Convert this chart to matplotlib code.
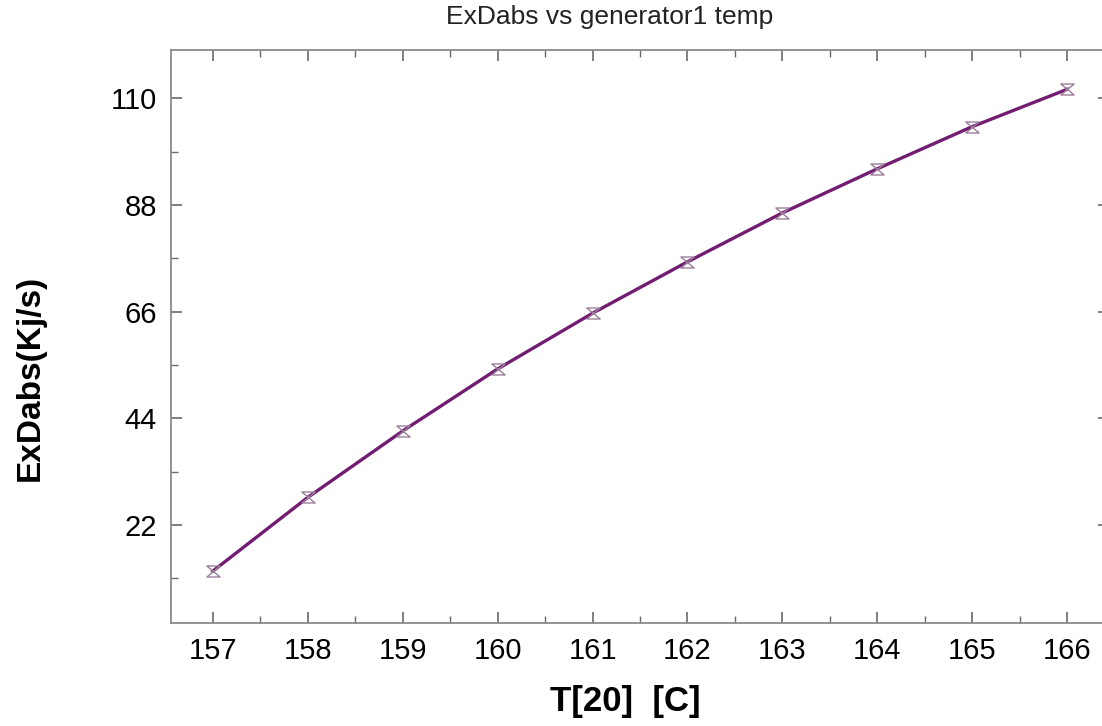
import matplotlib
matplotlib.use("Agg")
import matplotlib.pyplot as plt
from matplotlib.path import Path
from matplotlib.ticker import MultipleLocator

plt.rcParams['font.family'] = ['Liberation Sans', 'DejaVu Sans']

# generator temperature vs absorber exergy destruction
temp = [157, 158, 159, 160, 161, 162, 163, 164, 165, 166]
exd_abs = [12.5, 27.7, 41.4, 54.2, 65.7, 76.3, 86.4, 95.5, 104.2, 111.9]
y_ticks = [22, 44, 66, 88, 110]

# hourglass marker like the EES error-bar symbol
hourglass = Path([(-1.2, 1), (1.2, 1), (-1.2, -1), (1.2, -1), (-1.2, 1)],
                 [Path.MOVETO, Path.LINETO, Path.LINETO, Path.LINETO, Path.CLOSEPOLY])

fig = plt.figure(figsize=(11.02, 7.26), dpi=100)
ax = fig.add_axes([171 / 1102, 103 / 726, 938 / 1102, 573 / 726])

ax.plot(temp, exd_abs, color='#721c72', linewidth=2.4, zorder=2)
ax.plot(temp, exd_abs, linestyle='none', marker=hourglass, markersize=9.5,
        markerfacecolor='none', markeredgecolor='#9a7f9a', markeredgewidth=1.0, zorder=3)

ax.set_xlim(156.56, 166.44)
ax.set_ylim(1.8, 120)
ax.set_xticks(temp)
ax.set_yticks(y_ticks)
ax.xaxis.set_minor_locator(MultipleLocator(0.5))
ax.yaxis.set_minor_locator(MultipleLocator(11))

for sp in ax.spines.values():
    sp.set_color('#8a8a8a')
    sp.set_linewidth(1.3)

ax.tick_params(which='both', direction='in', top=True, right=True, color='#6a6a6a')
ax.tick_params(which='major', length=8, width=1.2, labelsize=21, pad=10)
ax.tick_params(which='minor', length=5, width=1.0)

fig.text(610 / 1102, 1 - 17 / 726, 'ExDabs vs generator1 temp', ha='center', va='center',
         fontsize=19, color='#222222')
fig.text(625 / 1102, 1 - 701 / 726, 'T[20]  [C]', ha='center', va='center',
         fontsize=25, fontweight='bold')
fig.text(30 / 1102, 1 - 378 / 726, 'ExDabs(Kj/s)', ha='center', va='center',
         rotation=90, fontsize=24, fontweight='bold')

fig.savefig('out.png', dpi=100)
